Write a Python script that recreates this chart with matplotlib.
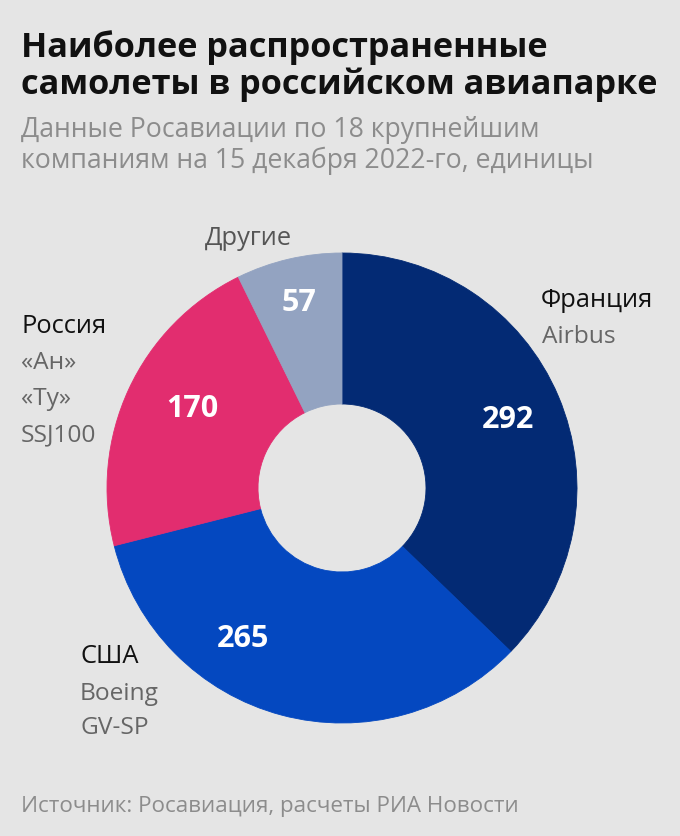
import matplotlib
matplotlib.use("Agg")
import matplotlib.pyplot as plt

plt.rcParams['font.family'] = ['Open Sans', 'DejaVu Sans']

# data
countries = ['Франция', 'США', 'Россия', 'Другие']
planes = [292, 265, 170, 57]
colors = ['#032a74', '#0448c0', '#e22d6f', '#93a3c1']

title_lines = ['Наиболее распространенные', 'самолеты в российском авиапарке']
subtitle_lines = ['Данные Росавиации по 18 крупнейшим',
                  'компаниям на 15 декабря 2022-го, единицы']
source = 'Источник: Росавиация, расчеты РИА Новости'

BG = '#e5e5e5'
W, H = 680, 836

fig = plt.figure(figsize=(W / 100, H / 100), dpi=100, facecolor=BG)
ax = fig.add_axes([0, 0, 1, 1])
ax.set_facecolor(BG)

# y axis goes down like pixels, so pie direction is flipped
cx, cy, R, r_in = 342, 488, 235, 84
wedges, _ = ax.pie(planes, colors=colors, startangle=-90, counterclock=True,
                   center=(cx, cy), radius=R,
                   wedgeprops=dict(width=R - r_in, linewidth=0.6))
for w, c in zip(wedges, colors):
    w.set_edgecolor(c)
ax.set_xlim(0, W)
ax.set_ylim(H, 0)
ax.set_aspect('equal')
ax.set_axis_off()

def px(size):
    return size * 72 / 100

# title / subtitle
for s, y in zip(title_lines, [57, 94]):
    ax.text(21, y, s, fontsize=px(34.3), fontweight='bold', color='#111111',
            va='baseline')
for s, y in zip(subtitle_lines, [137, 168]):
    ax.text(21, y, s, fontsize=px(26.6), color='#8c8c8c', va='baseline')

# values inside the donut
value_pos = [(508, 428), (243, 647), (192, 417), (299, 311)]
for v, (x, y) in zip(planes, value_pos):
    ax.text(x, y, str(v), fontsize=px(30.5), fontweight='bold', color='white',
            ha='center', va='baseline')

# category labels
lab = dict(fontsize=px(25.5), color='#111111', va='baseline')
sub = dict(fontsize=px(24.5), color='#666666', va='baseline')
ax.text(541, 307, countries[0], **lab)
ax.text(542, 343, 'Airbus', **sub)
ax.text(80, 663, countries[1], **lab)
ax.text(80, 700, 'Boeing', **sub)
ax.text(80, 734, 'GV-SP', **sub)
ax.text(21, 333, countries[2], **lab)
ax.text(21, 369, '«Ан»', **sub)
ax.text(21, 405, '«Ту»', **sub)
ax.text(21, 441, 'SSJ100', **sub)
ax.text(248, 245, countries[3], fontsize=px(25.5), color='#555555',
        ha='center', va='baseline')

ax.text(21, 812, source, fontsize=px(22.4), color='#8c8c8c', va='baseline')

fig.savefig('out.png', dpi=100, facecolor=BG)
